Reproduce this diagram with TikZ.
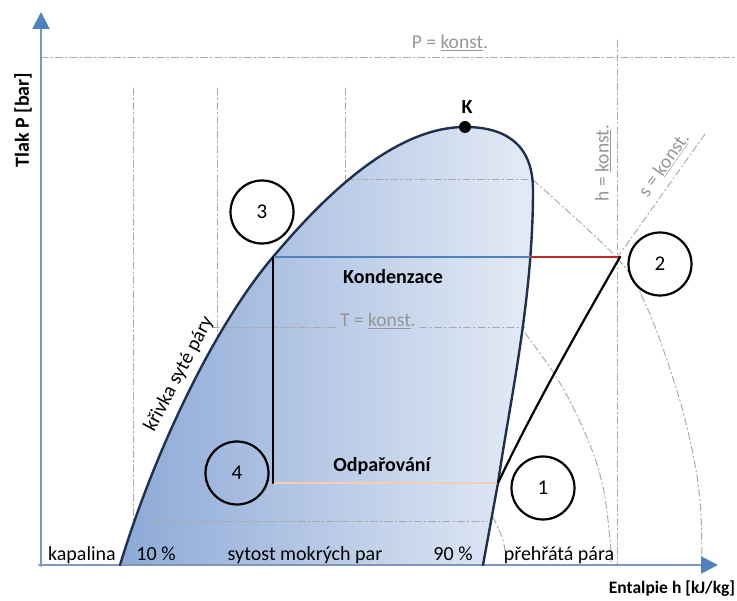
\documentclass[tikz,border=0pt]{standalone}
\usepackage{fontspec}
\setmainfont{Carlito}
\usetikzlibrary{arrows.meta}
\definecolor{axisblue}{RGB}{79,129,189}
\definecolor{axisline}{RGB}{125,150,185}
\definecolor{konstgray}{RGB}{170,170,170}
\definecolor{konsttext}{RGB}{150,150,150}
\definecolor{domedark}{RGB}{140,169,214}
\definecolor{domelight}{RGB}{228,235,246}
\definecolor{domeline}{RGB}{30,48,78}
\definecolor{superred}{RGB}{192,40,40}
\definecolor{evappeach}{RGB}{246,205,178}
\tikzset{
  konst/.style={konstgray, line width=1pt, dash pattern=on 7pt off 3pt on 1.5pt off 3pt},
  konstlabel/.style={konsttext, font=\fontsize{19.5}{21}\selectfont},
  state/.style={circle, draw, line width=2.2pt, minimum size=63pt, inner sep=0pt, font=\fontsize{21}{23}\selectfont},
  lbl/.style={font=\fontsize{20}{22}\selectfont},
  blbl/.style={font=\fontsize{20}{22}\selectfont\bfseries},
  axis/.style={axisline, line width=2pt, -{Triangle[width=17pt,length=17pt,color=axisblue]}}
}
\begin{document}
\begin{tikzpicture}[x=1pt,y=-1pt,line cap=round,line join=round]
\useasboundingbox (0,0) rectangle (737,601);
\draw[konst] (41,58) -- (737,58);
\draw[konst] (133,88) -- (133,565);
\draw[konst] (217,88) -- (217,565);
\draw[konst] (345,88) -- (345,565);
\draw[konst] (617,40) -- (617,565);
\fill[left color=domedark, right color=domelight] (120,565)
  .. controls (155,450) and (215,325) .. (273,257)
  .. controls (325,195) and (395,127) .. (465,127)
  .. controls (500,127) and (533,140) .. (533,190)
  .. controls (533,300) and (510,400) .. (498,483)
  -- (483,565) -- cycle;
\draw[konst] (347,180) -- (533,180);
\draw[konst] (212,328) -- (337,328);
\draw[konst] (420,328) -- (525,328);
\draw[konst] (153,522) -- (487,522);
\draw[konst] plot[smooth, tension=0.6] coordinates {(533,180) (617,258) (645,303) (672,375) (690,440) (700,500) (702,563)};
\draw[konst] plot[smooth, tension=0.6] coordinates {(525,333) (560,383) (588,440) (603,487) (610,540) (611,562)};
\draw[konst] plot[smooth] coordinates {(493,517) (503,540) (506,560)};
\draw[konst] (617,258) -- (705,134);
\draw[axis] (41,566) -- (41,12);
\draw[axis] (39,565) -- (718,565);
\draw[domeline, line width=2.4pt] (120,565)
  .. controls (155,450) and (215,325) .. (273,257)
  .. controls (325,195) and (395,127) .. (465,127)
  .. controls (500,127) and (533,140) .. (533,190)
  .. controls (533,300) and (510,400) .. (498,483)
  -- (483,565);
\coordinate (p3) at (273,257);
\coordinate (p4) at (273,483);
\coordinate (p1) at (498,483);
\coordinate (p2) at (620,257);
\coordinate (pv) at (531,257);
\draw[axisblue, line width=2.6pt] (p3) -- (pv);
\draw[superred, line width=2.8pt] (pv) -- (p2);
\draw[evappeach, line width=2.8pt] (p4) -- (p1);
\draw[line width=2.2pt] (p3) -- (p4);
\draw[line width=2.2pt] (p1) .. controls (535,405) and (585,318) .. (p2);
\fill[black] (465,127) circle (6);
\node[blbl] (kpoint) at (467,107) {K};
\node[state] (n3) at (262,212) {3};
\node[state] (n2) at (660,264) {2};
\node[state] (n1) at (543,488) {1};
\node[state] (n4) at (237,473) {4};
\node[blbl] (kond) at (393,277) {Kondenzace};
\node[blbl] (odpar) at (382,466) {Odpařování};
\node[konstlabel] (tkonst) at (378,321) {T = \underline{konst}.};
\node[konstlabel] (pkonst) at (450,43) {P = \underline{konst}.};
\node[konstlabel, rotate=90] (hkonst) at (603,163) {h = \underline{konst}.};
\node[konstlabel, rotate=55] (skonst) at (664,165) {s = \underline{konst}.};
\node[lbl, rotate=62] (krivka) at (179,374) {křivka syté páry};
\node[lbl, anchor=base] (kapal) at (82,561) {kapalina};
\node[lbl, anchor=base] (deset) at (156,561) {10 \%};
\node[lbl, anchor=base] (sytost) at (305,561) {sytost mokrých par};
\node[lbl, anchor=base] (devadesat) at (453,561) {90 \%};
\node[lbl, anchor=base] (prehrata) at (559,561) {přehřátá pára};
\node[blbl, font=\fontsize{17.5}{20}\selectfont\bfseries] (hlabel) at (672,589) {Entalpie h [kJ/kg]};
\node[blbl, rotate=90] (plabel) at (23,120) {Tlak P [bar]};
\end{tikzpicture}
\end{document}
